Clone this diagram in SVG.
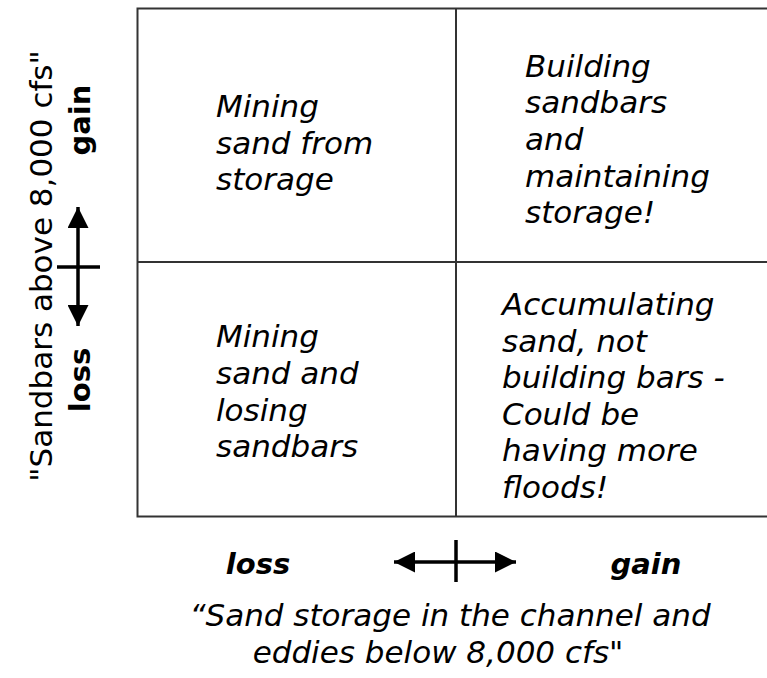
<svg xmlns="http://www.w3.org/2000/svg" width="767" height="678" viewBox="0 0 767 678">
<style>
.q{font-family:"DejaVu Sans","Verdana",sans-serif;font-style:italic;font-size:31px;fill:#000}
.ax{font-family:"DejaVu Sans","Verdana",sans-serif;font-weight:bold;font-size:29px;fill:#000}
.cap{font-family:"DejaVu Sans","Verdana",sans-serif;font-size:31px;fill:#000}
.ln{stroke:#333;stroke-width:2;fill:none}
.ar{stroke:#000;stroke-width:3.5;fill:none}
</style>
<defs>
<marker id="ah" viewBox="0 0 10 10" refX="10" refY="5" markerWidth="6" markerHeight="6" markerUnits="strokeWidth" orient="auto-start-reverse">
<path d="M0,0L10,5L0,10z" fill="#000"/>
</marker>
</defs>
<g id="grid">
<rect class="ln" x="137.5" y="8.5" width="640" height="508"/>
<line class="ln" x1="456" y1="8.5" x2="456" y2="516.5"/>
<line class="ln" x1="137.5" y1="262" x2="767" y2="262"/>
</g>
<g id="q-top-left">
<text class="q"><tspan x="216" y="117">Mining</tspan><tspan x="216" y="154">sand from</tspan><tspan x="216" y="190">storage</tspan></text>
</g>
<g id="q-top-right">
<text class="q"><tspan x="525" y="77">Building</tspan><tspan x="525" y="113">sandbars</tspan><tspan x="525" y="150">and</tspan><tspan x="525" y="187">maintaining</tspan><tspan x="525" y="223">storage!</tspan></text>
</g>
<g id="q-bottom-left">
<text class="q"><tspan x="216" y="347">Mining</tspan><tspan x="216" y="384">sand and</tspan><tspan x="216" y="421">losing</tspan><tspan x="216" y="457">sandbars</tspan></text>
</g>
<g id="q-bottom-right">
<text class="q"><tspan x="502" y="315">Accumulating</tspan><tspan x="502" y="352">sand, not</tspan><tspan x="502" y="388">building bars -</tspan><tspan x="502" y="425">Could be</tspan><tspan x="502" y="461">having more</tspan><tspan x="502" y="498">floods!</tspan></text>
</g>
<g id="y-axis">
<text class="cap" transform="translate(52,266) rotate(-90)" text-anchor="middle" font-size="32">"Sandbars above 8,000 cfs"</text>
<text class="ax" transform="translate(90,120) rotate(-90)" text-anchor="middle">gain</text>
<text class="ax" transform="translate(90,380) rotate(-90)" text-anchor="middle">loss</text>
</g>
<g id="x-axis">
<text class="ax" x="258" y="574" text-anchor="middle" font-style="italic" font-size="30">loss</text>
<text class="ax" x="646" y="574" text-anchor="middle" font-style="italic" font-size="30">gain</text>
<text class="cap" x="450" y="626" text-anchor="middle" font-style="italic">“Sand storage in the channel and</text>
<text class="cap" x="438" y="663" text-anchor="middle" font-style="italic">eddies below 8,000 cfs"</text>
</g>
<g id="connectors">
<line class="ar" x1="78" y1="207" x2="78" y2="326" marker-start="url(#ah)" marker-end="url(#ah)"/>
<line class="ar" x1="57" y1="267" x2="100" y2="267"/>
<line class="ar" x1="394" y1="562" x2="516" y2="562" marker-start="url(#ah)" marker-end="url(#ah)"/>
<line class="ar" x1="456" y1="540" x2="456" y2="582"/>
</g>
</svg>
